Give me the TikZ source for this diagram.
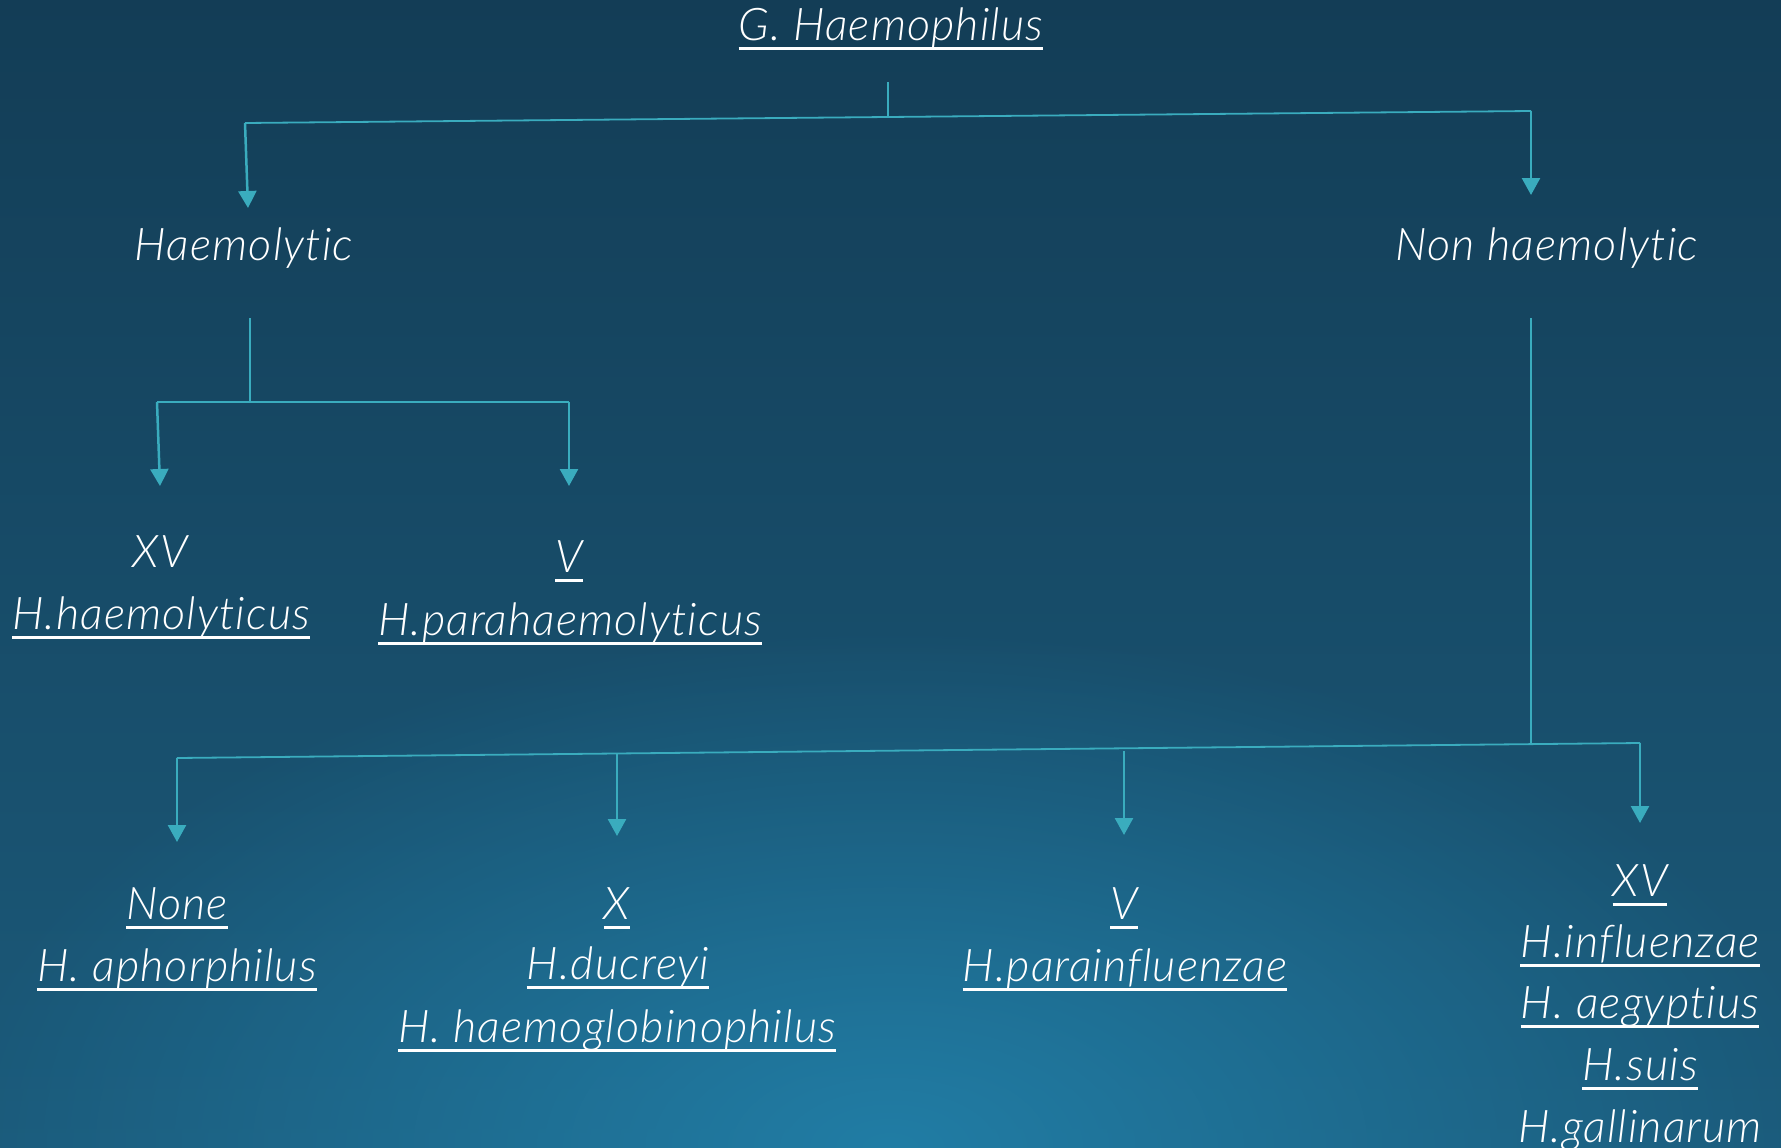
\documentclass[tikz,border=0pt]{standalone}
\usepackage{fontspec}
\setmainfont{Lato}[UprightFont=* Light, ItalicFont=* Light Italic, Ligatures={NoCommon}, LetterSpace=2.5]
\usetikzlibrary{arrows.meta,fadings}
\definecolor{bgtop}{RGB}{19,61,86}
\definecolor{bgbot}{RGB}{27,90,122}
\definecolor{glow}{RGB}{33,125,165}
\definecolor{lnc}{RGB}{58,172,190}
\newcommand\ulx[1]{\setbox0\hbox{#1}\rlap{\rule[-9.5pt]{\wd0}{3pt}}\box0}
\tikzfading[name=glowfade, inner color=transparent!0, outer color=transparent!100]
\tikzset{
  txt/.style={anchor=base, text=white, inner sep=0pt, font=\fontsize{45}{54}\selectfont\itshape},
  conn/.style={draw=lnc, line width=1.8pt},
  arr/.style={draw=lnc, line width=2.5pt, -{Triangle[width=18pt,length=17pt]}}
}
\begin{document}
\begin{tikzpicture}[x=1pt,y=-1pt]
\useasboundingbox (0,0) rectangle (1781,1148);
\fill[top color=bgtop, bottom color=bgbot] (0,0) rectangle (1781,1148);
\fill[glow, path fading=glowfade] (890,1148) ellipse (950 and 520);

% text nodes
\node[txt] (root) at (891,41) {\ulx{G. Haemophilus}};
\node[txt] (hem) at (244,260) {Haemolytic};
\node[txt] (nonhem) at (1547,260) {Non haemolytic};
\node[txt] (xv1) at (160,567) {XV};
\node[txt] (hhaem) at (161,629) {\ulx{H.haemolyticus}};
\node[txt] (v1) at (569,572) {\ulx{V}};
\node[txt] (hpara) at (570,635) {\ulx{H.parahaemolyticus}};
\node[txt] (none) at (177,919) {\ulx{None}};
\node[txt] (haph) at (177,981) {\ulx{H. aphorphilus}};
\node[txt] (x2) at (617,919) {\ulx{X}};
\node[txt] (hduc) at (618,979) {\ulx{H.ducreyi}};
\node[txt] (hhgl) at (617,1042) {\ulx{H. haemoglobinophilus}};
\node[txt] (v2) at (1124,919) {\ulx{V}};
\node[txt] (hpinf) at (1125,981) {\ulx{H.parainfluenzae}};
\node[txt] (xv2) at (1640,896) {\ulx{XV}};
\node[txt] (hinf) at (1640,957) {\ulx{H.influenzae}};
\node[txt] (haeg) at (1640,1018) {\ulx{H. aegyptius}};
\node[txt] (hsuis) at (1640,1080) {\ulx{H.suis}};
\node[txt] (hgal) at (1640,1142) {\ulx{H.gallinarum}};

% junction coordinates
\coordinate (r0) at (888,82);
\coordinate (r1) at (888,117);
\coordinate (bL) at (245,123);
\coordinate (bR) at (1531,111);
\coordinate (tipH) at (248,208);
\coordinate (tipN) at (1531,195);
\coordinate (h0) at (250,318);
\coordinate (h1) at (250,402);
\coordinate (hL) at (157,402);
\coordinate (hR) at (569,402);
\coordinate (tipXV) at (160,486);
\coordinate (tipV) at (569,486);
\coordinate (n0) at (1531,318);
\coordinate (n1) at (1531,744);
\coordinate (cL) at (177,758);
\coordinate (cR) at (1640,743);
\coordinate (c2) at (617,754);
\coordinate (c3) at (1124,751);
\coordinate (tip1) at (177,842);
\coordinate (tip2) at (617,836);
\coordinate (tip3) at (1124,835);
\coordinate (tip4) at (1640,823);

% connectors
\draw[conn] (r0) -- (r1);
\draw[conn] (bL) -- (bR);
\draw[arr] (bL) -- (tipH);
\draw[arr] (bR) -- (tipN);
\draw[conn] (h0) -- (h1);
\draw[conn] (hL) -- (hR);
\draw[arr] (hL) -- (tipXV);
\draw[arr] (hR) -- (tipV);
\draw[conn] (n0) -- (n1);
\draw[conn] (cL) -- (cR);
\draw[arr] (cL) -- (tip1);
\draw[arr] (c2) -- (tip2);
\draw[arr] (c3) -- (tip3);
\draw[arr] (cR) -- (tip4);
\end{tikzpicture}
\end{document}
